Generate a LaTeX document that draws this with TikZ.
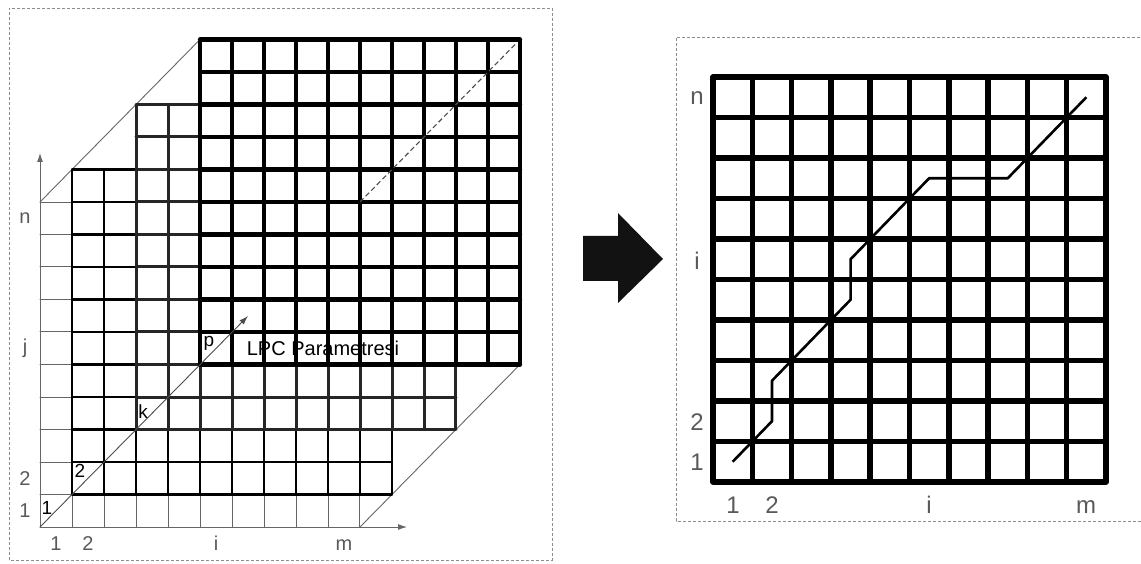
\documentclass[tikz,border=0pt]{standalone}
\usepackage{fontspec}
\setmainfont{Liberation Sans}
\usetikzlibrary{arrows.meta}

\begin{document}
\begin{tikzpicture}[x=1pt, y=1pt,
    axlbl/.style={text=black!65, font=\fontsize{20}{24}\selectfont, inner sep=0pt},
    inlbl/.style={text=black, font=\fontsize{19}{23}\selectfont, inner sep=0pt},
    rlbl/.style={text=black!65, font=\fontsize{24}{28}\selectfont, inner sep=0pt},
    frame/.style={black!45, line width=0.8, dash pattern=on 3pt off 2pt},
    thinline/.style={black!60, line width=0.9},
    tip/.style={-{Latex[length=9pt,width=6pt]}}]

    \useasboundingbox (0,0) rectangle (1141,563);

    % Left panel frame
    \draw[frame] (9,3) rectangle (552,555);

    % Lines joining the corners of the stacked layers
    \coordinate (tl1) at (40,361);
    \coordinate (tl4) at (200,523.5);
    \coordinate (br1) at (360,36);
    \coordinate (br4) at (520,198.5);
    \draw[thinline] (tl1) -- (tl4);
    \draw[thinline] (br1) -- (br4);

    % Stacked frame layers, each one covering the one below
    \foreach \ox/\oy/\lw/\col [count=\k] in {40/36/1/black!60, 72/68.5/2.3/black,
                                             136/133.5/3/black!85, 200/198.5/4.2/black} {
        \begin{scope}[shift={(\ox,\oy)}, x=32pt, y=32.5pt]
            \fill[white] (0,0) rectangle (10,10);
            \draw[\col, line width=\lw, line cap=round] (0,0) grid[step=1] (10,10);
            \coordinate (o\k) at (0,0);
        \end{scope}
    }

    % Dashed diagonal on the top layer
    \begin{scope}[shift={(200,198.5)}, x=32pt, y=32.5pt]
        \draw[black!70, line width=1.1, dash pattern=on 5pt off 3pt] (5,5) -- (9.85,9.85);
    \end{scope}

    % Axes and the diagonal through the layers
    \coordinate (ytip) at (40,410);
    \coordinate (xtip) at (407,36);
    \coordinate (ptip) at (248,247);
    \draw[thinline, tip] (o1) -- (ytip);
    \draw[thinline, tip] (o1) -- (xtip);
    \draw[thinline, black!70, tip] (o1) -- (ptip);

    % Left axis labels
    \node[axlbl] (ln) at (25,344.75) {n};
    \node[axlbl] (lj) at (25,214.75) {j};
    \node[axlbl] (lr2) at (25,84.75) {2};
    \node[axlbl] (lr1) at (25,52.25) {1};
    \node[axlbl, anchor=base] (lc1) at (56,13) {1};
    \node[axlbl, anchor=base] (lc2) at (88,13) {2};
    \node[axlbl, anchor=base] (lci) at (216,13) {i};
    \node[axlbl, anchor=base] (lcm) at (344,13) {m};

    % Layer labels along the diagonal
    \node[inlbl] (nb1) at (47,55) {1};
    \node[inlbl] (nb2) at (80,92) {2};
    \node[inlbl] (nbk) at (143,151) {k};
    \node[inlbl] (nbp) at (209,220) {p};
    \node[inlbl, font=\fontsize{20}{24}\selectfont] (lpc) at (323,215) {LPC Parametresi};

    % Block arrow between the panels
    \fill[black!93] (583,282) -- (618,282) -- (618,260) -- (663,304)
                    -- (618,350) -- (618,327) -- (583,327) -- cycle;

    % Right panel frame (open on the right)
    \draw[frame] (1141,42) -- (676,42) -- (676,526) -- (1141,526);

    % Right grid and warping path
    \begin{scope}[shift={(713,81)}, x=39.3pt, y=40.5pt]
        \draw[line width=5.5, line cap=round] (0,0) grid[step=1] (10,10);
        \draw[line width=2.6, line join=round] (0.5,0.5) -- (1.5,1.5) -- (1.5,2.5)
            -- (3.5,4.5) -- (3.5,5.5) -- (5.5,7.5) -- (7.5,7.5) -- (9.5,9.5);
    \end{scope}

    % Right axis labels
    \node[rlbl] (rn) at (697,465) {n};
    \node[rlbl] (ri) at (697,302) {i};
    \node[rlbl] (rr2) at (697,141) {2};
    \node[rlbl] (rr1) at (697,101) {1};
    \node[rlbl, anchor=base] (rc1) at (733,50) {1};
    \node[rlbl, anchor=base] (rc2) at (772,50) {2};
    \node[rlbl, anchor=base] (rci) at (929,50) {i};
    \node[rlbl, anchor=base] (rcm) at (1086,50) {m};

\end{tikzpicture}
\end{document}
